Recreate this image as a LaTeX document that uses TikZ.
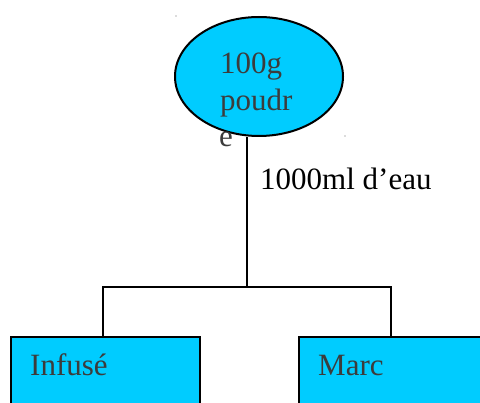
\documentclass[tikz,border=0pt]{standalone}
\usepackage{fontspec}
\setmainfont{Liberation Serif}
\usetikzlibrary{shapes.geometric}
\definecolor{fillcyan}{HTML}{00CCFF}
\definecolor{txtgray}{HTML}{3C3C3C}
\tikzset{
  shapeline/.style={draw=black, line width=2pt, fill=fillcyan},
  conn/.style={draw=black, line width=1.4pt},
  graytxt/.style={text=txtgray, inner sep=0pt, font=\fontsize{31}{36}\selectfont},
  blacktxt/.style={text=black, inner sep=0pt, font=\fontsize{31}{36}\selectfont},
  dotmark/.style={fill=black!60}
}
\begin{document}
\begin{tikzpicture}[x=1pt,y=-1pt]
\useasboundingbox (0,0) rectangle (480,403);
\node[shapeline, ellipse, minimum width=168pt, minimum height=119pt, inner sep=0pt] (e) at (259,76.5) {};
\node[graytxt, anchor=base west] (p1) at (220,74) {100g};
\node[graytxt, anchor=base west] (p2) at (220,111) {poudr};
\node[graytxt, anchor=base west] (p3) at (219,147) {e};
\node[blacktxt, anchor=base west] (lab) at (260,190) {1000ml d’eau};
\node[shapeline, rectangle, anchor=north west, minimum width=189pt, minimum height=90pt, inner sep=0pt] (b1) at (10,336) {};
\node[shapeline, rectangle, anchor=north west, minimum width=200pt, minimum height=90pt, inner sep=0pt] (b2) at (298,336) {};
\node[graytxt, anchor=base west] (t1) at (30,376) {Infusé};
\node[graytxt, anchor=base west] (t2) at (318,376) {Marc};
\coordinate (j) at (247,287);
\coordinate (jl) at (103,287);
\coordinate (jr) at (391,287);
\draw[conn] (e.south -| j) -- (j);
\draw[conn] (b1.north -| jl) -- (jl) -- (jr) -- (b2.north -| jr);
\fill[dotmark] (176,16) circle (0.7);
\fill[dotmark] (345,136) circle (0.7);
\end{tikzpicture}
\end{document}
